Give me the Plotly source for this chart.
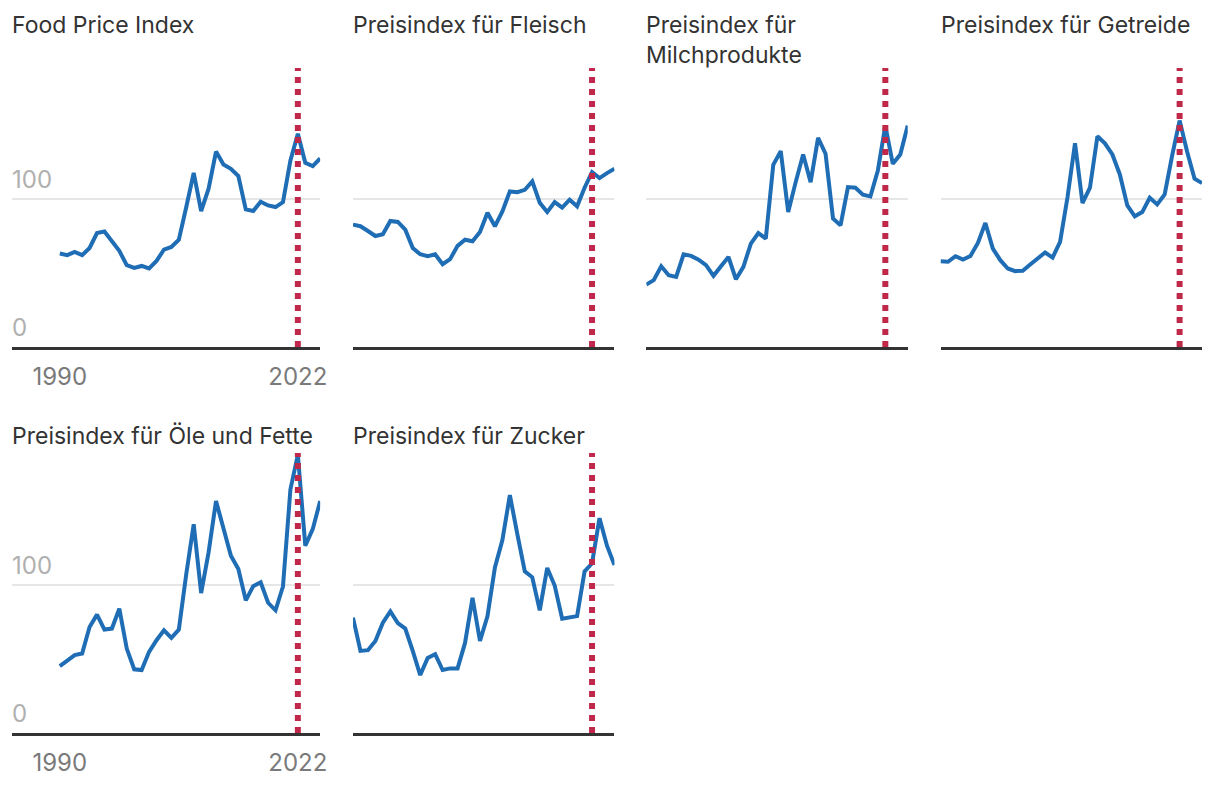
import plotly.graph_objects as go

years = list(range(1990, 2026))

titles = [
    "Food Price Index",
    "Preisindex für Fleisch",
    "Preisindex für<br>Milchprodukte",
    "Preisindex für Getreide",
    "Preisindex für Öle und Fette",
    "Preisindex für Zucker",
]

food = [63.3, 62.2, 64.4, 62.2, 67.1, 77.2, 78.2, 71.2, 65.1, 55.4, 53.6, 54.9,
        53.2, 58.3, 66.0, 67.8, 72.7, 94.8, 118.0, 92.1, 107.2, 132.4, 123.6, 120.7,
        115.8, 93.2, 92.1, 98.4, 95.9, 94.8, 98.2, 126.4, 144.4, 124.8, 122.5, 127.7]
meat = [82.9, 81.8, 78.6, 75.2, 76.4, 85.4, 84.7, 79.5, 67.1, 62.8, 61.5, 62.8,
        56.1, 59.5, 68.5, 72.7, 71.6, 77.9, 91.0, 81.8, 91.9, 105.4, 104.9, 106.5,
        112.2, 97.7, 91.4, 98.2, 94.4, 99.8, 95.3, 107.9, 118.5, 114.4, 117.8, 120.7]
dairy = [42.3, 45.3, 54.7, 48.6, 47.5, 62.8, 61.7, 59.2, 55.4, 48.2, 54.7, 61.0,
         45.9, 54.3, 70.0, 77.2, 73.4, 123.4, 132.7, 91.4, 111.7, 130.4, 111.7, 141.7,
         130.9, 87.0, 82.4, 108.3, 107.9, 103.2, 102.0, 119.6, 150.0, 124.1, 130.4, 150.0]
cereals = [58.1, 57.7, 61.5, 59.2, 61.7, 70.5, 84.0, 66.7, 58.8, 53.2, 51.4, 51.6,
           55.9, 59.9, 64.0, 60.6, 71.2, 101.6, 138.0, 97.5, 107.9, 142.8, 138.0, 130.4,
           116.9, 95.9, 88.5, 91.4, 101.1, 96.6, 103.4, 129.7, 153.4, 132.4, 114.0, 111.0]
oils = [45.2, 48.7, 52.6, 53.7, 71.6, 79.9, 69.8, 70.5, 83.9, 57.0, 43.0, 42.5,
        54.8, 62.6, 69.3, 64.2, 69.8, 107.4, 140.9, 94.4, 121.9, 156.6, 137.6, 119.7,
        110.7, 89.5, 99.1, 101.7, 87.9, 82.8, 98.9, 164.4, 187.9, 126.4, 137.6, 156.6]
sugar = [77.9, 55.4, 55.9, 62.1, 74.5, 82.1, 74.2, 70.5, 55.4, 39.1, 50.7, 53.2,
         42.5, 43.6, 43.6, 60.8, 91.3, 62.1, 78.7, 111.8, 130.2, 160.6, 134.2, 109.1,
         105.1, 82.8, 111.4, 99.5, 77.2, 78.3, 78.9, 109.1, 114.5, 145.0, 126.4, 113.4]

series = [food, meat, dairy, cereals, oils, sugar]
marker_year = 2022
y_ticks = [0, 100]
x_ticks = [1990, 2022]

# page body has an 8px margin; lay out in window pixels and compensate
OFF = 8
W, H = 1220 - 2 * OFF, 786 - 2 * OFF
col_px = [(12, 322), (355, 618), (650, 913), (946, 1209)]
row_px = [(68, 347), (453, 733)]
title_top_px = [9, 420]

BLUE = "#1f6db5"
RED = "#c0284a"
FONT = "Inter, Roboto, sans-serif"


def px_x(v):
    return (v - OFF) / W


def px_y(v):
    return 1 - (v - OFF) / H


fig = go.Figure()
layout = dict(
    width=W, height=H,
    margin=dict(l=0, r=0, t=0, b=0),
    paper_bgcolor="white", plot_bgcolor="white",
    showlegend=False,
    font=dict(family=FONT, color="#333333", size=22),
)
annotations = []
shapes = []
ymax = 189

for i, (title, vals) in enumerate(zip(titles, series)):
    r, c = divmod(i, 4)
    n = i + 1
    xa = "x" if n == 1 else f"x{n}"
    ya = "y" if n == 1 else f"y{n}"
    x0, x1 = col_px[c]
    y0, y1 = row_px[r]
    first_col = c == 0
    fig.add_trace(go.Scatter(
        x=years, y=vals, mode="lines",
        line=dict(color=BLUE, width=4),
        xaxis=xa, yaxis=ya, hoverinfo="x+y",
    ))
    layout[f"xaxis{n if n > 1 else ''}"] = dict(
        domain=[px_x(x0), px_x(x1)],
        anchor=ya,
        range=[1983.57 if first_col else 1990, 2025],
        showgrid=False, zeroline=False,
        showline=True, linecolor="#333333", linewidth=2.5,
        tickvals=x_ticks if first_col else [],
        showticklabels=first_col,
        ticks="",
        ticklabelstandoff=6,
        tickfont=dict(size=24, color="#7a7a7a", family=FONT),
    )
    layout[f"yaxis{n if n > 1 else ''}"] = dict(
        domain=[px_y(y1), px_y(y0)],
        anchor=xa,
        range=[0, ymax],
        showgrid=True, gridcolor="#e6e6e6", gridwidth=1.5,
        zeroline=False, showline=False,
        tickvals=y_ticks,
        showticklabels=False,
        ticks="",
    )
    if first_col:
        for t in y_ticks:
            annotations.append(dict(
                text=str(t), xref=f"{xa} domain", yref=ya,
                x=0, y=t, xanchor="left", yanchor="bottom",
                yshift=3, xshift=-2, showarrow=False,
                font=dict(size=24, color="#b0b0b0", family=FONT),
            ))
    shapes.append(dict(
        type="line", xref=xa, yref=f"{ya} domain",
        x0=marker_year, x1=marker_year, y0=0, y1=1,
        line=dict(color=RED, width=6, dash="dot"),
        layer="above",
    ))
    annotations.append(dict(
        text=title, xref="paper", yref="paper",
        x=px_x(x0), y=px_y(title_top_px[r]),
        xanchor="left", yanchor="top", showarrow=False, align="left",
        xshift=-2,
        font=dict(size=23, color="#333333", family=FONT),
    ))

layout["annotations"] = annotations
layout["shapes"] = shapes
fig.update_layout(**layout)
fig.write_html("out.html", config={"displayModeBar": False})
